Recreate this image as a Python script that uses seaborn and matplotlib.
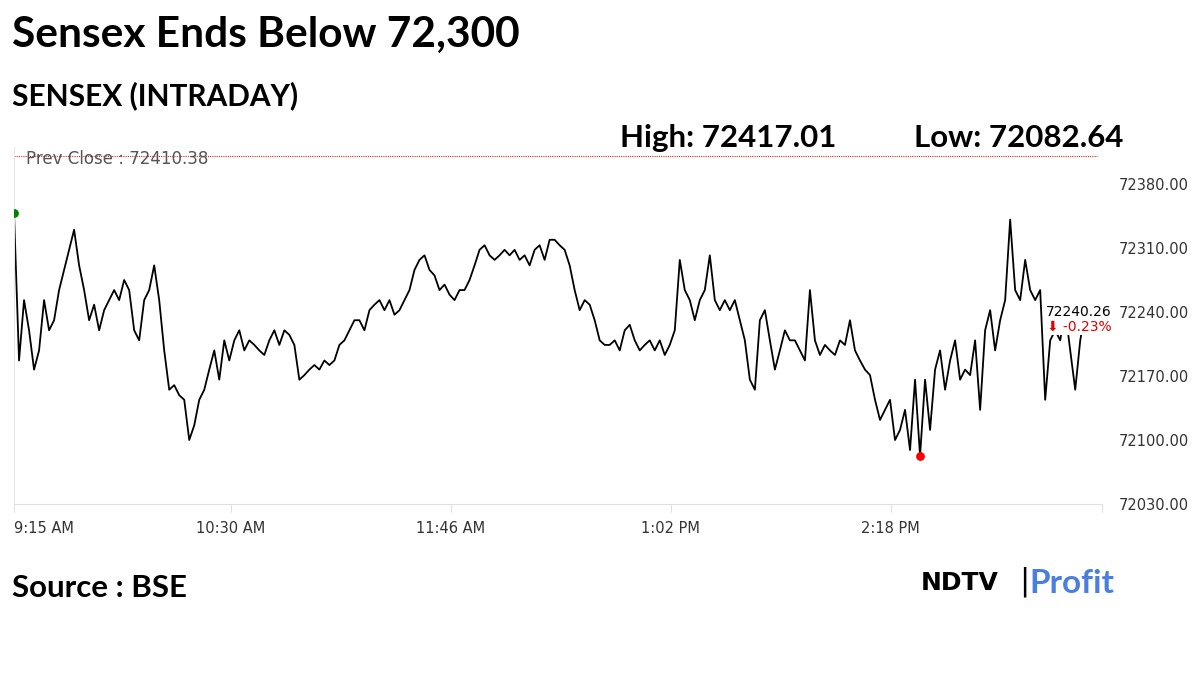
import numpy as np
import pandas as pd
import matplotlib
matplotlib.use("Agg")
import matplotlib.pyplot as plt
import seaborn as sns

title = "Sensex Ends Below 72,300"
subtitle = "SENSEX (INTRADAY)"
high_val = 72417.01
low_val = 72082.64
prev_close = 72410.38
last_val = 72240.26
change_pct = -0.23
tick_minutes = [0, 75, 151, 227, 303]
tick_labels = ["9:15 AM", "10:30 AM", "11:46 AM", "1:02 PM", "2:18 PM"]
y_ticks = [72030, 72100, 72170, 72240, 72310, 72380]

values = [72348, 72187, 72253, 72220, 72177, 72198, 72253, 72220, 72231, 72264,
          72286, 72308, 72330, 72291, 72264, 72231, 72248, 72220, 72242, 72253,
          72264, 72253, 72275, 72264, 72220, 72209, 72253, 72264, 72291, 72253,
          72198, 72155, 72160, 72149, 72144, 72100, 72116, 72144, 72155, 72177,
          72198, 72166, 72209, 72187, 72209, 72220, 72198, 72209, 72204, 72198,
          72193, 72209, 72220, 72204, 72220, 72215, 72204, 72166, 72171, 72177,
          72182, 72177, 72187, 72182, 72187, 72204, 72209, 72220, 72231, 72231,
          72220, 72242, 72248, 72253, 72242, 72253, 72237, 72242, 72253, 72264,
          72286, 72297, 72302, 72286, 72280, 72264, 72270, 72259, 72253, 72264,
          72264, 72275, 72291, 72308, 72313, 72302, 72297, 72302, 72308, 72302,
          72308, 72297, 72302, 72291, 72308, 72313, 72297, 72319, 72319, 72313,
          72308, 72291, 72264, 72242, 72253, 72248, 72231, 72209, 72204, 72204,
          72209, 72198, 72220, 72226, 72209, 72198, 72204, 72209, 72198, 72209,
          72193, 72204, 72220, 72297, 72264, 72253, 72231, 72253, 72264, 72302,
          72253, 72242, 72253, 72242, 72253, 72231, 72209, 72166, 72155, 72231,
          72242, 72209, 72177, 72198, 72220, 72209, 72209, 72198, 72187, 72264,
          72209, 72193, 72204, 72198, 72193, 72209, 72204, 72231, 72198, 72187,
          72177, 72171, 72144, 72122, 72133, 72144, 72100, 72111, 72133, 72089,
          72166, 72082.64, 72166, 72111, 72177, 72198, 72155, 72187, 72209, 72166,
          72177, 72171, 72209, 72133, 72220, 72242, 72198, 72231, 72253, 72341,
          72264, 72253, 72297, 72264, 72253, 72264, 72144, 72209, 72220, 72209,
          72242, 72198, 72155, 72209, 72240.26]
sample_step_min = 1.73
session_end_min = 376

minutes = np.arange(len(values)) * sample_step_min
df = pd.DataFrame({"minute": minutes, "value": values})

FONT = "Lato"
fig = plt.figure(figsize=(12, 6.75), dpi=100)
ax = fig.add_axes([0.0117, 0.2533, 0.9066, 0.5283])
sns.lineplot(data=df, x="minute", y="value", ax=ax, color="black", linewidth=1.3)

ax.set_xlim(0, session_end_min)
ax.set_ylim(72030, 72420)
ax.set_xlabel("")
ax.set_ylabel("")
for s in ["top", "right"]:
    ax.spines[s].set_visible(False)
ax.spines["left"].set_color("#e6e6e6")
ax.spines["bottom"].set_color("#e0e0e0")
ax.yaxis.tick_right()
ax.set_yticks(y_ticks)
ax.set_yticklabels([f"{v:.2f}" for v in y_ticks], fontsize=10.5, color="#333333", fontfamily="DejaVu Sans")
ax.tick_params(axis="y", length=0, pad=12)
ax.set_xticks(tick_minutes + [session_end_min])
ax.set_xticklabels(tick_labels + [""], fontsize=10.5, color="#333333", fontfamily="DejaVu Sans")
ax.get_xticklabels()[0].set_horizontalalignment("left")
ax.tick_params(axis="x", length=6, color="#e0e0e0", pad=6)

ax.axhline(prev_close, color="#d62728", linestyle=(0, (1, 1)), linewidth=0.8, xmax=0.995)
ax.text(4, prev_close - 3, "Prev Close : 72410.38", fontsize=12, color="#555555", va="center",
        fontfamily="DejaVu Sans", clip_on=False)

ax.scatter([minutes[0]], [values[0]], color="green", s=28, zorder=5)
imin = int(np.argmin(values))
ax.scatter([minutes[imin]], [values[imin]], color="red", s=28, zorder=5)
ax.scatter([session_end_min], [last_val], color="#1f3fbf", s=40, zorder=5, clip_on=False)

ax.text(368, 72232, f"{last_val:.2f}", fontsize=10, ha="center", va="bottom", fontfamily="DejaVu Sans",
        bbox=dict(facecolor="white", edgecolor="none", pad=1), zorder=6)
ax.text(368, 72232, f"\u2b07 {change_pct:.2f}%", fontsize=10, color="#e00000", ha="center", va="top",
        fontfamily="DejaVu Sans", bbox=dict(facecolor="white", edgecolor="none", pad=1), zorder=6)

fig.text(0.01, 0.948, title, fontsize=30.5, fontweight="bold", fontfamily=FONT, va="center")
fig.text(0.01, 0.858, subtitle, fontsize=21.5, fontweight="bold", fontfamily=FONT, va="center")
fig.text(0.517, 0.796, f"High: {high_val:.2f}", fontsize=22.5, fontweight="bold", fontfamily=FONT, va="center")
fig.text(0.762, 0.796, f"Low: {low_val:.2f}", fontsize=22.5, fontweight="bold", fontfamily=FONT, va="center")
fig.text(0.01, 0.129, "Source : BSE", fontsize=22.5, fontweight="bold", fontfamily=FONT, va="center")
fig.text(0.767, 0.136, "NDTV", fontsize=18, fontweight="black", fontfamily="DejaVu Sans", va="center")
fig.text(0.849, 0.138, "|", fontsize=22, fontfamily="DejaVu Sans", va="center")
fig.text(0.858, 0.136, "Profit", fontsize=24, fontweight="bold", fontfamily=FONT, va="center", color="#4a7fe0")

fig.savefig("out.png", dpi=100, facecolor="white")
